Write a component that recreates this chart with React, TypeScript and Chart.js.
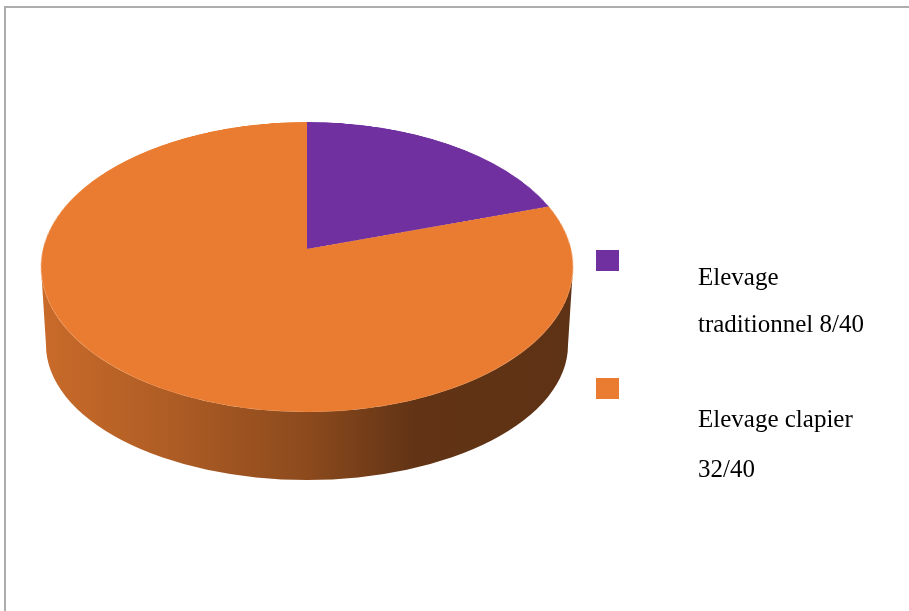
import React, { useEffect, useRef } from "react";
import { Chart, registerables } from "chart.js";

Chart.register(...registerables);

// ---- data ----
const categories = ["Elevage traditionnel 8/40", "Elevage clapier 32/40"];
const legendLines = [
  ["Elevage", "traditionnel 8/40"],
  ["Elevage clapier", "32/40"],
];
const values = [8, 32];
const colors = ["#7030A0", "#EA7C31"];

// ---- layout (pixels) ----
const W = 909;
const H = 611;
// where Chart.js lays out the flat pie before it is tilted
const FLAT_CX = 307;
const FLAT_CY = 267;
const FLAT_R = 266;
// perspective of the tilted top face
const APEX_X = 307;
const APEX_Y = 249;
const FACE_TOP = 122;
const FACE_BOTTOM = 412;
const APEX_HALF_W = 264;
// rim ellipses of the side wall
const TOP_CY = 267;
const TOP_RX = 266;
const TOP_RY = 145;
const BOT_CY = 345;
const BOT_RX = 261;
const BOT_RY = 135;

// derived perspective constants: y' = APEX_Y + P*n/(1 - T*n)
const up = APEX_Y - FACE_TOP;
const down = FACE_BOTTOM - APEX_Y;
const PT = (down - up) / (down + up);
const PP = down * (1 - PT);

function hexToRgb(hex: string) {
  const h = hex.replace("#", "");
  return [parseInt(h.slice(0, 2), 16), parseInt(h.slice(2, 4), 16), parseInt(h.slice(4, 6), 16)];
}
function shade(hex: string, f: number) {
  const [r, g, b] = hexToRgb(hex);
  return `rgb(${Math.round(r * f)},${Math.round(g * f)},${Math.round(b * f)})`;
}

// map a flat pie angle to the parametric angle on the tilted rim ellipse
function rimAngle(a: number) {
  const u = Math.cos(a);
  const n = Math.sin(a);
  const w = 1 / (1 - PT * n);
  const x = APEX_X + APEX_HALF_W * u * w;
  const y = APEX_Y + PP * n * w;
  return Math.atan2((y - TOP_CY) / TOP_RY, (x - TOP_CX()) / TOP_RX);
}
function TOP_CX() {
  return APEX_X;
}

const pie3d = {
  id: "pie3d",
  afterDatasetsDraw(chart: any) {
    const ctx = chart.ctx as CanvasRenderingContext2D;
    const dpr = chart.currentDevicePixelRatio || 1;
    const meta = chart.getDatasetMeta(0);
    if (!meta.data.length) return;
    const p0 = meta.data[0].getProps(["x", "y", "outerRadius"], true);
    const R = p0.outerRadius;
    const sx0 = p0.x - R;
    const sy0 = p0.y - R;
    const size = Math.ceil(2 * R) + 2;

    // copy the flat pie drawn by Chart.js
    const off = document.createElement("canvas");
    off.width = Math.round(size * dpr);
    off.height = Math.round(size * dpr);
    const octx = off.getContext("2d")!;
    octx.drawImage(
      chart.canvas,
      (sx0 - 1) * dpr,
      (sy0 - 1) * dpr,
      size * dpr,
      size * dpr,
      0,
      0,
      size * dpr,
      size * dpr
    );

    ctx.save();
    ctx.clearRect(sx0 - 1, sy0 - 1, size, size);

    // side wall
    const TWO = Math.PI * 2;
    meta.data.forEach((arc: any, i: number) => {
      const p = arc.getProps(["startAngle", "endAngle"], true);
      const col = colors[i % colors.length];
      let fs = rimAngle(p.startAngle);
      let fe = rimAngle(p.endAngle);
      let delta = fe - fs;
      while (delta <= 0) delta += TWO;
      if (p.endAngle - p.startAngle >= TWO - 1e-6) delta = TWO;
      fe = fs + delta;
      for (const offA of [-TWO, 0, TWO]) {
        const s = Math.max(fs, offA);
        const e = Math.min(fe, offA + Math.PI);
        if (e <= s) continue;
        const grad = ctx.createLinearGradient(APEX_X - TOP_RX, 0, APEX_X + TOP_RX, 0);
        grad.addColorStop(0, shade(col, 0.86));
        grad.addColorStop(0.25, shade(col, 0.74));
        grad.addColorStop(0.5, shade(col, 0.6));
        grad.addColorStop(0.7, shade(col, 0.42));
        grad.addColorStop(1, shade(col, 0.4));
        ctx.beginPath();
        ctx.ellipse(APEX_X, TOP_CY, TOP_RX, TOP_RY, 0, s, e, false);
        ctx.ellipse(APEX_X, BOT_CY, BOT_RX, BOT_RY, 0, e, s, true);
        ctx.closePath();
        ctx.fillStyle = grad;
        ctx.fill();
      }
    });

    // tilted top face: warp the flat pie row by row
    ctx.imageSmoothingEnabled = true;
    for (let yd = Math.floor(FACE_TOP) - 1; yd <= Math.ceil(FACE_BOTTOM) + 1; yd++) {
      const yc = yd + 0.5;
      const d = (yc - APEX_Y) / PP;
      const n = d / (1 + PT * d);
      if (n < -1.01 || n > 1.01) continue;
      const w = 1 / (1 - PT * n);
      const srcC = 1 + R + n * R;
      const h = (R * (1 - PT * n) * (1 - PT * n)) / PP;
      const scale = (APEX_HALF_W / R) * w;
      ctx.drawImage(
        off,
        0,
        (srcC - h / 2) * dpr,
        size * dpr,
        h * dpr,
        APEX_X - (R + 1) * scale,
        yd,
        size * scale,
        1
      );
    }
    ctx.restore();
  },
};

export default function App() {
  const ref = useRef<HTMLCanvasElement | null>(null);

  useEffect(() => {
    if (!ref.current) return;
    const chart = new Chart(ref.current, {
      type: "pie",
      data: {
        labels: categories,
        datasets: [
          {
            data: values,
            backgroundColor: colors,
            borderWidth: 0,
            hoverOffset: 0,
          },
        ],
      },
      options: {
        responsive: false,
        animation: false,
        events: [],
        layout: {
          padding: {
            left: FLAT_CX - FLAT_R,
            right: W - (FLAT_CX + FLAT_R),
            top: FLAT_CY - FLAT_R,
            bottom: H - (FLAT_CY + FLAT_R),
          },
        },
        plugins: {
          legend: { display: false },
          tooltip: { enabled: false },
          title: { display: false },
        },
      },
      plugins: [pie3d],
    });
    return () => chart.destroy();
  }, []);

  const textStyle: React.CSSProperties = {
    position: "absolute",
    left: 698,
    fontFamily: "'Liberation Serif', 'Times New Roman', serif",
    fontSize: 25,
    lineHeight: "47px",
    color: "#000",
    whiteSpace: "nowrap",
  };

  const boxTops = [250, 378];
  const lineTops = [
    [253, 300],
    [395, 445],
  ];

  return (
    <div style={{ position: "fixed", left: 0, top: 0, width: W, height: H, background: "#fff", overflow: "hidden" }}>
      <div
        style={{
          position: "absolute",
          left: 4,
          top: 6,
          width: 2000,
          height: 2000,
          borderLeft: "2px solid #ADADAD",
          borderTop: "2px solid #ADADAD",
        }}
      />
      <canvas ref={ref} width={W} height={H} style={{ position: "absolute", left: 0, top: 0, width: W, height: H }} />
      {legendLines.map((lines, i) => (
        <React.Fragment key={i}>
          <div
            style={{
              position: "absolute",
              left: 596,
              top: boxTops[i],
              width: 23,
              height: 21,
              background: colors[i],
            }}
          />
          {lines.map((l, j) => (
            <div key={j} style={{ ...textStyle, top: lineTops[i][j] }}>
              {l}
            </div>
          ))}
        </React.Fragment>
      ))}
    </div>
  );
}
